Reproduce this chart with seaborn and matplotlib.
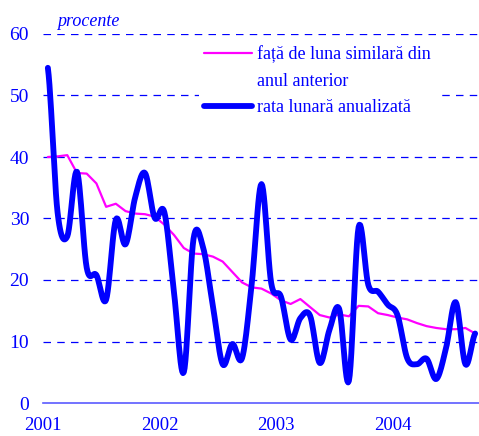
import numpy as np
import pandas as pd
import matplotlib
matplotlib.use('Agg')
import matplotlib.pyplot as plt
import seaborn as sns
from matplotlib.lines import Line2D

# monthly data, Jan 2001 - Sep 2004 (procente)
months = pd.date_range('2001-01-01', periods=45, freq='MS')
fata_de_luna = [40.0, 40.1, 40.3, 37.4, 37.3, 35.7, 31.9, 32.4, 31.2, 30.8, 30.7, 30.3,
                29.0, 27.3, 25.2, 24.3, 24.2, 23.8, 23.0, 21.3, 19.6, 18.8, 18.6, 17.8,
                16.7, 16.1, 16.9, 15.6, 14.3, 13.9, 14.4, 14.1, 15.8, 15.7, 14.6,
                14.3, 13.9, 13.6, 13.0, 12.5, 12.2, 12.0, 12.0, 12.2, 11.3]
rata_lunara = [54.5, 31.0, 27.1, 37.6, 22.0, 20.8, 16.8, 29.8, 25.8, 33.5, 37.4, 30.1,
               31.0, 17.8, 5.0, 26.7, 25.2, 15.7, 6.3, 9.6, 7.3, 19.5, 35.6, 19.5,
               17.3, 10.3, 13.8, 14.2, 6.5, 11.9, 15.3, 3.6, 28.6, 19.2, 18.1,
               16.0, 14.3, 7.3, 6.3, 7.2, 3.9, 8.9, 16.4, 6.3, 11.3]
year_labels = ['2001', '2002', '2003', '2004']
label_pink = 'față de luna similară din'
label_pink2 = 'anul anterior'
label_blue = 'rata lunară anualizată'

BLUE = '#0000ff'
PINK = '#ff00ff'


def smooth(y, n=12):
    # Catmull-Rom style smoothing like a spreadsheet "smoothed line"
    y = np.asarray(y, dtype=float)
    p = np.concatenate([[y[0]], y, [y[-1]]])
    xs, ys = [], []
    for i in range(len(y) - 1):
        p0, p1, p2, p3 = p[i], p[i + 1], p[i + 2], p[i + 3]
        t = np.linspace(0, 1, n, endpoint=False)
        c = 0.5 * ((2 * p1) + (-p0 + p2) * t + (2 * p0 - 5 * p1 + 4 * p2 - p3) * t ** 2
                   + (-p0 + 3 * p1 - 3 * p2 + p3) * t ** 3)
        xs.extend(i + t)
        ys.extend(c)
    xs.append(len(y) - 1)
    ys.append(y[-1])
    return np.array(xs), np.array(ys)


df = pd.DataFrame({'idx': np.arange(len(months)), 'pink': fata_de_luna})
sx, sy = smooth(rata_lunara)
df_smooth = pd.DataFrame({'idx': sx, 'blue': sy})

sns.set_style('white')
plt.rcParams['font.family'] = ['Liberation Serif', 'DejaVu Serif']

fig = plt.figure(figsize=(4.79, 4.36), dpi=100)
ax = fig.add_axes([43 / 479, 1 - 403 / 436, 437 / 479, 369 / 436])

for v in range(10, 70, 10):
    ax.axhline(v, color=BLUE, lw=0.9, ls=(0, (6, 5)), zorder=1)

sns.lineplot(data=df, x='idx', y='pink', color=PINK, lw=1.6, ax=ax, zorder=3)
sns.lineplot(data=df_smooth, x='idx', y='blue', color=BLUE, lw=4.2, ax=ax, zorder=4,
             solid_capstyle='round')

ax.set_xlim(-0.5, 44.5)
ax.set_ylim(0, 60)
ax.set_yticks(range(0, 70, 10))
ax.set_xticks([-0.5, 11.5, 23.5, 35.5])
ax.set_xticklabels(year_labels)
ax.set_xlabel('')
ax.set_ylabel('')

for s in ['left', 'right', 'top']:
    ax.spines[s].set_visible(False)
ax.spines['bottom'].set_color('#5a5aff')
ax.spines['bottom'].set_linewidth(1.2)
ax.tick_params(axis='x', colors='#5a5aff', direction='out', length=6, width=1.2,
               labelcolor=BLUE, labelsize=13.5, pad=4)
ax.tick_params(axis='y', length=0, labelcolor=BLUE, labelsize=14, pad=10)

fig.text(57 / 479, 1 - 21 / 436, 'procente', color=BLUE, fontsize=13, style='italic',
         va='center', ha='left')

handles = [Line2D([], [], color=PINK, lw=1.6),
           Line2D([], [], color='none', lw=0),
           Line2D([], [], color=BLUE, lw=4.2)]
leg = ax.legend(handles, [label_pink, label_pink2, label_blue],
                loc='upper left', bbox_to_anchor=((199 - 43) / 437, (403 - 40) / 369),
                frameon=True, facecolor='white', edgecolor='none', framealpha=1,
                fontsize=13, handlelength=2.66, handletextpad=0.25, labelspacing=0.52,
                borderpad=0.3, borderaxespad=0)
for t in leg.get_texts():
    t.set_color(BLUE)
leg.set_zorder(2)

fig.savefig('out.png', dpi=100)
